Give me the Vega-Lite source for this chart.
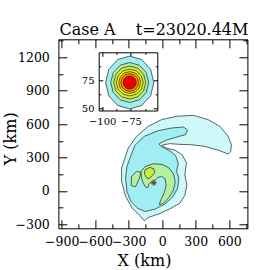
{
"$schema": "https://vega.github.io/schema/vega-lite/v6.json",
"width": 189, "height": 189,
"autosize": {"type": "none"},
"padding": {"left": 58.4, "top": 39.3, "right": 22.6, "bottom": 41.7},
"background": "white",
"title": {"text": "Case A\u00a0\u00a0\u00a0\u00a0t=23020.44M", "font": "DejaVu Serif", "fontSize": 16, "fontWeight": "normal", "anchor": "middle", "baseline": "alphabetic", "frame": "group", "offset": 8.6, "dx": 1, "dy": 25, "color": "black"},
"config": {
  "view": {"stroke": "black", "strokeWidth": 1},
  "axis": {"labelFont": "DejaVu Serif", "titleFont": "DejaVu Serif", "labelColor": "black", "tickColor": "black", "domainColor": "black", "titleColor": "black", "grid": false, "labelOverlap": false, "labelFlush": false, "labelBound": false, "titleFontWeight": "normal", "tickWidth": 1, "domainWidth": 1, "format": "d"}
},
"datasets": {
"big": [
{"poly":"p00","level":"L0","i":0,"x":-334,"y":295},
{"poly":"p00","level":"L0","i":1,"x":-304,"y":385},
{"poly":"p00","level":"L0","i":2,"x":-230,"y":490},
{"poly":"p00","level":"L0","i":3,"x":-126,"y":580},
{"poly":"p00","level":"L0","i":4,"x":-6,"y":640},
{"poly":"p00","level":"L0","i":5,"x":128,"y":670},
{"poly":"p00","level":"L0","i":6,"x":277,"y":679},
{"poly":"p00","level":"L0","i":7,"x":411,"y":640},
{"poly":"p00","level":"L0","i":8,"x":515,"y":580},
{"poly":"p00","level":"L0","i":9,"x":590,"y":490},
{"poly":"p00","level":"L0","i":10,"x":619,"y":415},
{"poly":"p00","level":"L0","i":11,"x":613,"y":355},
{"poly":"p00","level":"L0","i":12,"x":590,"y":331},
{"poly":"p00","level":"L0","i":13,"x":515,"y":361},
{"poly":"p00","level":"L0","i":14,"x":381,"y":400},
{"poly":"p00","level":"L0","i":15,"x":262,"y":415},
{"poly":"p00","level":"L0","i":16,"x":157,"y":418},
{"poly":"p00","level":"L0","i":17,"x":68,"y":425},
{"poly":"p00","level":"L0","i":18,"x":-6,"y":410},
{"poly":"p00","level":"L0","i":19,"x":38,"y":385},
{"poly":"p00","level":"L0","i":20,"x":113,"y":366},
{"poly":"p00","level":"L0","i":21,"x":178,"y":325},
{"poly":"p00","level":"L0","i":22,"x":217,"y":250},
{"poly":"p00","level":"L0","i":23,"x":202,"y":145},
{"poly":"p00","level":"L0","i":24,"x":220,"y":55},
{"poly":"p00","level":"L0","i":25,"x":202,"y":-41},
{"poly":"p00","level":"L0","i":26,"x":158,"y":-110},
{"poly":"p00","level":"L0","i":27,"x":68,"y":-161},
{"poly":"p00","level":"L0","i":28,"x":-36,"y":-209},
{"poly":"p00","level":"L0","i":29,"x":-126,"y":-239},
{"poly":"p00","level":"L0","i":30,"x":-161,"y":-269},
{"poly":"p00","level":"L0","i":31,"x":-200,"y":-221},
{"poly":"p00","level":"L0","i":32,"x":-269,"y":-155},
{"poly":"p00","level":"L0","i":33,"x":-328,"y":-50},
{"poly":"p00","level":"L0","i":34,"x":-364,"y":85},
{"poly":"p00","level":"L0","i":35,"x":-364,"y":205},
{"poly":"p01","level":"L1","i":0,"x":-289,"y":295},
{"poly":"p01","level":"L1","i":1,"x":-245,"y":409},
{"poly":"p01","level":"L1","i":2,"x":-161,"y":490},
{"poly":"p01","level":"L1","i":3,"x":-36,"y":541},
{"poly":"p01","level":"L1","i":4,"x":83,"y":565},
{"poly":"p01","level":"L1","i":5,"x":190,"y":574},
{"poly":"p01","level":"L1","i":6,"x":226,"y":547},
{"poly":"p01","level":"L1","i":7,"x":208,"y":505},
{"poly":"p01","level":"L1","i":8,"x":119,"y":481},
{"poly":"p01","level":"L1","i":9,"x":29,"y":454},
{"poly":"p01","level":"L1","i":10,"x":-30,"y":421},
{"poly":"p01","level":"L1","i":11,"x":-6,"y":397},
{"poly":"p01","level":"L1","i":12,"x":68,"y":360},
{"poly":"p01","level":"L1","i":13,"x":119,"y":319},
{"poly":"p01","level":"L1","i":14,"x":143,"y":250},
{"poly":"p01","level":"L1","i":15,"x":128,"y":175},
{"poly":"p01","level":"L1","i":16,"x":149,"y":115},
{"poly":"p01","level":"L1","i":17,"x":137,"y":25},
{"poly":"p01","level":"L1","i":18,"x":98,"y":-50},
{"poly":"p01","level":"L1","i":19,"x":23,"y":-119},
{"poly":"p01","level":"L1","i":20,"x":-66,"y":-164},
{"poly":"p01","level":"L1","i":21,"x":-155,"y":-185},
{"poly":"p01","level":"L1","i":22,"x":-221,"y":-155},
{"poly":"p01","level":"L1","i":23,"x":-281,"y":-95},
{"poly":"p01","level":"L1","i":24,"x":-316,"y":-5},
{"poly":"p01","level":"L1","i":25,"x":-328,"y":115},
{"poly":"p01","level":"L1","i":26,"x":-316,"y":220},
{"poly":"p02","level":"L2","i":0,"x":-191,"y":175},
{"poly":"p02","level":"L2","i":1,"x":-155,"y":217},
{"poly":"p02","level":"L2","i":2,"x":-81,"y":244},
{"poly":"p02","level":"L2","i":3,"x":0,"y":238},
{"poly":"p02","level":"L2","i":4,"x":62,"y":205},
{"poly":"p02","level":"L2","i":5,"x":101,"y":151},
{"poly":"p02","level":"L2","i":6,"x":116,"y":79},
{"poly":"p02","level":"L2","i":7,"x":98,"y":1},
{"poly":"p02","level":"L2","i":8,"x":59,"y":-59},
{"poly":"p02","level":"L2","i":9,"x":9,"y":-113},
{"poly":"p02","level":"L2","i":10,"x":-27,"y":-125},
{"poly":"p02","level":"L2","i":11,"x":-12,"y":-80},
{"poly":"p02","level":"L2","i":12,"x":17,"y":-20},
{"poly":"p02","level":"L2","i":13,"x":35,"y":49},
{"poly":"p02","level":"L2","i":14,"x":26,"y":109},
{"poly":"p02","level":"L2","i":15,"x":-6,"y":130},
{"poly":"p02","level":"L2","i":16,"x":-40,"y":120},
{"poly":"p02","level":"L2","i":17,"x":-60,"y":100},
{"poly":"p02","level":"L2","i":18,"x":-95,"y":85},
{"poly":"p02","level":"L2","i":19,"x":-120,"y":60},
{"poly":"p02","level":"L2","i":20,"x":-128,"y":30},
{"poly":"p02","level":"L2","i":21,"x":-150,"y":35},
{"poly":"p02","level":"L2","i":22,"x":-170,"y":70},
{"poly":"p02","level":"L2","i":23,"x":-185,"y":115},
{"poly":"p03","level":"L2","i":0,"x":-275,"y":130},
{"poly":"p03","level":"L2","i":1,"x":-230,"y":175},
{"poly":"p03","level":"L2","i":2,"x":-191,"y":166},
{"poly":"p03","level":"L2","i":3,"x":-206,"y":109},
{"poly":"p03","level":"L2","i":4,"x":-239,"y":37},
{"poly":"p03","level":"L2","i":5,"x":-278,"y":49},
{"poly":"p04","level":"L3","i":0,"x":-155,"y":190},
{"poly":"p04","level":"L3","i":1,"x":-111,"y":211},
{"poly":"p04","level":"L3","i":2,"x":-75,"y":199},
{"poly":"p04","level":"L3","i":3,"x":-68,"y":165},
{"poly":"p04","level":"L3","i":4,"x":-88,"y":140},
{"poly":"p04","level":"L3","i":5,"x":-115,"y":110},
{"poly":"p04","level":"L3","i":6,"x":-140,"y":118},
{"poly":"p04","level":"L3","i":7,"x":-160,"y":152}
],
"rings": [
{"poly":"r1","level":"L1","i":0,"x":-55,"y":73},
{"poly":"r1","level":"L1","i":1,"x":-57.8,"y":84.6},
{"poly":"r1","level":"L1","i":2,"x":-65.5,"y":93.1},
{"poly":"r1","level":"L1","i":3,"x":-76,"y":96.2},
{"poly":"r1","level":"L1","i":4,"x":-86.5,"y":93.1},
{"poly":"r1","level":"L1","i":5,"x":-94.2,"y":84.6},
{"poly":"r1","level":"L1","i":6,"x":-97,"y":73},
{"poly":"r1","level":"L1","i":7,"x":-94.2,"y":61.4},
{"poly":"r1","level":"L1","i":8,"x":-86.5,"y":52.9},
{"poly":"r1","level":"L1","i":9,"x":-76,"y":49.8},
{"poly":"r1","level":"L1","i":10,"x":-65.5,"y":52.9},
{"poly":"r1","level":"L1","i":11,"x":-57.8,"y":61.4},
{"poly":"r2","level":"L2","i":0,"x":-59.5,"y":73},
{"poly":"r2","level":"L2","i":1,"x":-61.7,"y":81.75},
{"poly":"r2","level":"L2","i":2,"x":-67.75,"y":88.2},
{"poly":"r2","level":"L2","i":3,"x":-76,"y":90.5},
{"poly":"r2","level":"L2","i":4,"x":-84.25,"y":88.2},
{"poly":"r2","level":"L2","i":5,"x":-90.3,"y":81.75},
{"poly":"r2","level":"L2","i":6,"x":-92.5,"y":73},
{"poly":"r2","level":"L2","i":7,"x":-90.3,"y":64.25},
{"poly":"r2","level":"L2","i":8,"x":-84.25,"y":57.8},
{"poly":"r2","level":"L2","i":9,"x":-76,"y":55.5},
{"poly":"r2","level":"L2","i":10,"x":-67.75,"y":57.8},
{"poly":"r2","level":"L2","i":11,"x":-61.7,"y":64.25},
{"poly":"r3","level":"L3","i":0,"x":-62,"y":73},
{"poly":"r3","level":"L3","i":1,"x":-63.9,"y":80.25},
{"poly":"r3","level":"L3","i":2,"x":-69,"y":85.6},
{"poly":"r3","level":"L3","i":3,"x":-76,"y":87.5},
{"poly":"r3","level":"L3","i":4,"x":-83,"y":85.6},
{"poly":"r3","level":"L3","i":5,"x":-88.1,"y":80.25},
{"poly":"r3","level":"L3","i":6,"x":-90,"y":73},
{"poly":"r3","level":"L3","i":7,"x":-88.1,"y":65.75},
{"poly":"r3","level":"L3","i":8,"x":-83,"y":60.4},
{"poly":"r3","level":"L3","i":9,"x":-76,"y":58.5},
{"poly":"r3","level":"L3","i":10,"x":-69,"y":60.4},
{"poly":"r3","level":"L3","i":11,"x":-63.9,"y":65.75},
{"poly":"r4","level":"L4","i":0,"x":-64.3,"y":73},
{"poly":"r4","level":"L4","i":1,"x":-65.9,"y":78.85},
{"poly":"r4","level":"L4","i":2,"x":-70.15,"y":83.1},
{"poly":"r4","level":"L4","i":3,"x":-76,"y":84.7},
{"poly":"r4","level":"L4","i":4,"x":-81.85,"y":83.1},
{"poly":"r4","level":"L4","i":5,"x":-86.1,"y":78.85},
{"poly":"r4","level":"L4","i":6,"x":-87.7,"y":73},
{"poly":"r4","level":"L4","i":7,"x":-86.1,"y":67.15},
{"poly":"r4","level":"L4","i":8,"x":-81.85,"y":62.9},
{"poly":"r4","level":"L4","i":9,"x":-76,"y":61.3},
{"poly":"r4","level":"L4","i":10,"x":-70.15,"y":62.9},
{"poly":"r4","level":"L4","i":11,"x":-65.9,"y":67.15},
{"poly":"r5","level":"L5","i":0,"x":-66.4,"y":73},
{"poly":"r5","level":"L5","i":1,"x":-67.7,"y":77.8},
{"poly":"r5","level":"L5","i":2,"x":-71.2,"y":81.3},
{"poly":"r5","level":"L5","i":3,"x":-76,"y":82.6},
{"poly":"r5","level":"L5","i":4,"x":-80.8,"y":81.3},
{"poly":"r5","level":"L5","i":5,"x":-84.3,"y":77.8},
{"poly":"r5","level":"L5","i":6,"x":-85.6,"y":73},
{"poly":"r5","level":"L5","i":7,"x":-84.3,"y":68.2},
{"poly":"r5","level":"L5","i":8,"x":-80.8,"y":64.7},
{"poly":"r5","level":"L5","i":9,"x":-76,"y":63.4},
{"poly":"r5","level":"L5","i":10,"x":-71.2,"y":64.7},
{"poly":"r5","level":"L5","i":11,"x":-67.7,"y":68.2},
{"poly":"r6","level":"L6","i":0,"x":-68.2,"y":73},
{"poly":"r6","level":"L6","i":1,"x":-69.25,"y":76.9},
{"poly":"r6","level":"L6","i":2,"x":-72.1,"y":79.75},
{"poly":"r6","level":"L6","i":3,"x":-76,"y":80.8},
{"poly":"r6","level":"L6","i":4,"x":-79.9,"y":79.75},
{"poly":"r6","level":"L6","i":5,"x":-82.75,"y":76.9},
{"poly":"r6","level":"L6","i":6,"x":-83.8,"y":73},
{"poly":"r6","level":"L6","i":7,"x":-82.75,"y":69.1},
{"poly":"r6","level":"L6","i":8,"x":-79.9,"y":66.25},
{"poly":"r6","level":"L6","i":9,"x":-76,"y":65.2},
{"poly":"r6","level":"L6","i":10,"x":-72.1,"y":66.25},
{"poly":"r6","level":"L6","i":11,"x":-69.25,"y":69.1},
{"poly":"r7","level":"L7","i":0,"x":-70.2,"y":73},
{"poly":"r7","level":"L7","i":1,"x":-70.98,"y":75.9},
{"poly":"r7","level":"L7","i":2,"x":-73.1,"y":78.02},
{"poly":"r7","level":"L7","i":3,"x":-76,"y":78.8},
{"poly":"r7","level":"L7","i":4,"x":-78.9,"y":78.02},
{"poly":"r7","level":"L7","i":5,"x":-81.02,"y":75.9},
{"poly":"r7","level":"L7","i":6,"x":-81.8,"y":73},
{"poly":"r7","level":"L7","i":7,"x":-81.02,"y":70.1},
{"poly":"r7","level":"L7","i":8,"x":-78.9,"y":67.98},
{"poly":"r7","level":"L7","i":9,"x":-76,"y":67.2},
{"poly":"r7","level":"L7","i":10,"x":-73.1,"y":67.98},
{"poly":"r7","level":"L7","i":11,"x":-70.98,"y":70.1}
]
},
"layer": [
{
  "layer": [
    {"data": {"name": "big"},
     "mark": {"type": "line", "interpolate": "linear-closed", "stroke": "#222", "strokeWidth": 0.7},
     "encoding": {
       "detail": {"field": "poly"},
       "order": {"field": "i", "type": "quantitative"},
       "fill": {"field": "level", "type": "nominal", "legend": null,
         "scale": {"domain": ["L0","L1","L2","L3","L4","L5","L6","L7"], "range": ["#cdf9f9","#a0eef2","#b5f0a0","#c8ee40","#f6f600","#f8c400","#f59000","#f00000"]}}
     }},
    {"data": {"name": "rings"},
     "mark": {"type": "line", "interpolate": "linear-closed", "stroke": "#222", "strokeWidth": 0.4},
     "encoding": {
       "detail": {"field": "poly"},
       "order": {"field": "i", "type": "quantitative"},
       "fill": {"field": "level", "type": "nominal", "legend": null}
     }}
  ],
  "encoding": {
    "x": {"field": "x", "type": "quantitative", "scale": {"domain": [-929.5, 762], "nice": false, "zero": false},
      "axis": {"orient": "bottom", "values": [-900,-750,-600,-450,-300,-150,0,150,300,450,600,750],
        "labelExpr": "datum.value % 300 === 0 ? datum.label : ''",
        "tickSize": {"condition": {"test": "datum.value % 300 === 0", "value": -8.5}, "value": -4.5},
        "labelFontSize": 12.5, "labelPadding": 16, "domain": false,
        "title": "X (km)", "titleFontSize": 16, "titleX": 85.6, "titleY": 36.7, "titleBaseline": "alphabetic", "titleAlign": "center"}},
    "y": {"field": "y", "type": "quantitative", "scale": {"domain": [-336, 1362], "nice": false, "zero": false},
      "axis": {"orient": "left", "values": [-300,-150,0,150,300,450,600,750,900,1050,1200,1350],
        "labelExpr": "datum.value % 300 === 0 ? datum.label : ''",
        "tickSize": {"condition": {"test": "datum.value % 300 === 0", "value": -8.5}, "value": -4.5},
        "labelFontSize": 12.5, "labelPadding": 17.6, "domain": false,
        "title": "Y (km)", "titleFontSize": 16, "titleX": -43.1, "titleY": 99, "titleAngle": 270, "titleBaseline": "alphabetic", "titleAlign": "center"}}
  }
},
{
  "data": {"name": "big"},
  "mark": {"type": "point", "opacity": 0},
  "encoding": {
    "x": {"field": "x", "type": "quantitative", "scale": {"domain": [-929.5, 762], "nice": false, "zero": false},
      "axis": {"orient": "top", "values": [-900,-750,-600,-450,-300,-150,0,150,300,450,600,750], "labels": false, "domain": false, "title": null,
        "tickSize": {"condition": {"test": "datum.value % 300 === 0", "value": -8.5}, "value": -4.5}}},
    "y": {"field": "y", "type": "quantitative", "scale": {"domain": [-336, 1362], "nice": false, "zero": false},
      "axis": {"orient": "right", "values": [-300,-150,0,150,300,450,600,750,900,1050,1200,1350], "labels": false, "domain": false, "title": null,
        "tickSize": {"condition": {"test": "datum.value % 300 === 0", "value": -8.5}, "value": -4.5}}}
  }
},
{
  "data": {"name": "rings"},
  "mark": {"type": "line", "interpolate": "linear-closed", "stroke": "#222", "strokeWidth": 0.7},
  "encoding": {
    "detail": {"field": "poly"},
    "order": {"field": "i", "type": "quantitative"},
    "fill": {"field": "level", "type": "nominal", "legend": null},
    "x": {"field": "x", "type": "quantitative", "scale": {"domain": [-103, -52], "range": [40.3, 98.9], "nice": false, "zero": false},
      "axis": {"orient": "bottom", "offset": -117.8, "values": [-100,-87.5,-75,-62.5],
        "labelExpr": "datum.value % 25 === 0 ? datum.label : ''",
        "tickSize": {"condition": {"test": "datum.value % 25 === 0", "value": -4}, "value": -2},
        "labelFontSize": 10, "labelPadding": 10, "domain": true, "title": null}},
    "y": {"field": "y", "type": "quantitative", "scale": {"domain": [48.5, 99.5], "range": [71.2, 13], "nice": false, "zero": false},
      "axis": {"orient": "left", "offset": -40.3, "values": [50,62.5,75,87.5],
        "labelExpr": "datum.value % 25 === 0 ? datum.label : ''",
        "tickSize": {"condition": {"test": "datum.value % 25 === 0", "value": -4}, "value": -2},
        "labelFontSize": 10, "labelPadding": 8.7, "domain": true, "title": null}}
  }
},
{
  "data": {"name": "rings"},
  "mark": {"type": "point", "opacity": 0},
  "encoding": {
    "x": {"field": "x", "type": "quantitative", "scale": {"domain": [-103, -52], "range": [40.3, 98.9], "nice": false, "zero": false},
      "axis": {"orient": "top", "offset": -13, "values": [-100,-87.5,-75,-62.5], "labels": false, "domain": true, "title": null,
        "tickSize": {"condition": {"test": "datum.value % 25 === 0", "value": -4}, "value": -2}}},
    "y": {"field": "y", "type": "quantitative", "scale": {"domain": [48.5, 99.5], "range": [71.2, 13], "nice": false, "zero": false},
      "axis": {"orient": "right", "offset": -90.1, "values": [50,62.5,75,87.5], "labels": false, "domain": true, "title": null,
        "tickSize": {"condition": {"test": "datum.value % 25 === 0", "value": -4}, "value": -2}}}
  }
}
],
"resolve": {"scale": {"x": "independent", "y": "independent"}, "axis": {"x": "independent", "y": "independent"}}
}
